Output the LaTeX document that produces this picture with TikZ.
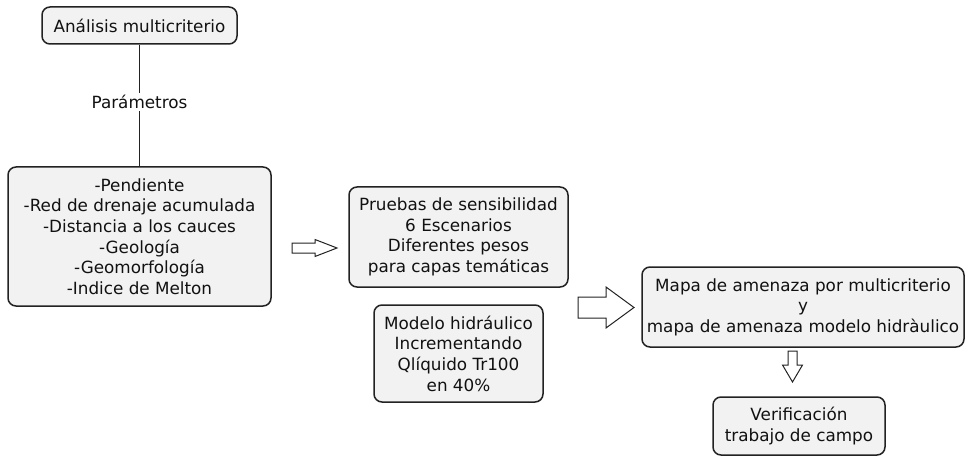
\documentclass[tikz,border=0pt]{standalone}
\usepackage{fontspec}
\setmainfont{DejaVu Sans}
\definecolor{boxfill}{HTML}{F2F2F2}
\definecolor{boxline}{HTML}{222222}
\definecolor{txt}{HTML}{111111}
\tikzset{
  box/.style={draw=boxline, line width=1.5pt, fill=boxfill, rounded corners=8pt,
    inner sep=0pt, align=center, text=txt, font=\fontsize{16.8}{20.6}\selectfont},
  conn/.style={draw=boxline, line width=1.4pt},
  blockarrow/.style={draw=boxline, line width=1pt, fill=white, line join=miter},
}
\begin{document}
\begin{tikzpicture}[x=1pt,y=-1pt]
\useasboundingbox (0,0) rectangle (966,457);
\node[box, minimum width=195pt, minimum height=37pt] (b1) at (139.5,25.5) {Análisis multicriterio};
\node[box, minimum width=263pt, minimum height=139pt] (b2) at (139.5,236.5)
  {-Pendiente\\-Red de drenaje acumulada\\-Distancia a los cauces\\-Geología\\-Geomorfología\\-Indice de Melton};
\node[box, minimum width=219pt, minimum height=100pt] (b3) at (458.5,237)
  {Pruebas de sensibilidad\\6 Escenarios\\Diferentes pesos\\para capas temáticas};
\node[box, minimum width=169pt, minimum height=97pt] (b4) at (458.5,353.5)
  {Modelo hidráulico\\Incrementando\\Qlíquido Tr100\\en 40\%};
\node[box, minimum width=322pt, minimum height=80pt] (b5) at (803,307)
  {Mapa de amenaza por multicriterio\\y\\mapa de amenaza modelo hidràulico};
\node[box, minimum width=172pt, minimum height=58pt] (b6) at (799,426)
  {Verificación\\trabajo de campo};
\draw[conn] (b1) -- node[fill=white, text=txt, inner sep=2pt, font=\fontsize{16.8}{20}\selectfont, pos=0.47] (lbl) {Parámetros} (b2);
% hollow block arrows
\draw[blockarrow] (292,243) -- (315,243) -- (315,239.5) -- (337,248) -- (315,256.5) -- (315,253) -- (292,253) -- cycle;
\draw[blockarrow] (578,297) -- (606,297) -- (606,287) -- (634,307.5) -- (606,328) -- (606,318) -- (578,318) -- cycle;
\draw[blockarrow] (788,351) -- (797,351) -- (797,365) -- (802.5,365) -- (792.5,382) -- (782.5,365) -- (788,365) -- cycle;
\end{tikzpicture}
\end{document}
